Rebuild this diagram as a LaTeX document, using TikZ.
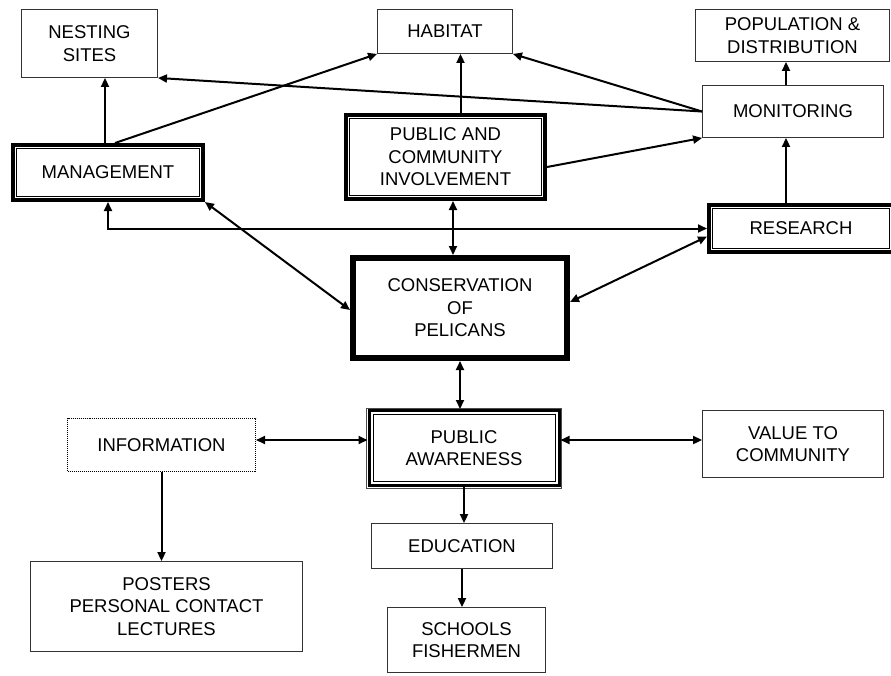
\documentclass[tikz,border=0pt]{standalone}
\usepackage{fontspec}
\setmainfont{Liberation Sans}
\usepackage{tikz}
\usetikzlibrary{shapes,arrows.meta,positioning,calc}

\newcommand{\boxfont}{\fontsize{18.5}{22.5}\selectfont}

\tikzset{
  box/.style={draw=black!80, line width=0.9pt, rectangle, align=center, font=\boxfont, inner sep=2pt},
  framed/.style={box, draw=black, line width=4pt},
  heavy/.style={box, draw=black, line width=6pt},
  dotbox/.style={box, draw=black, line width=1pt, densely dotted},
  link/.style={line width=2pt, -{Triangle[length=9pt,width=8pt]}},
  bilink/.style={line width=2pt, {Triangle[length=9pt,width=8pt]}-{Triangle[length=9pt,width=8pt]}}
}

\begin{document}
\begin{tikzpicture}[x=1pt,y=-1pt]
            \useasboundingbox (0,0) rectangle (891,675);

            % top row
            \node[box, minimum width=136, minimum height=68] (nest) at (89.5,43.5) {NESTING\\SITES};
            \node[box, minimum width=135, minimum height=44] (habitat) at (445,31.5) {HABITAT};
            \node[box, minimum width=194, minimum height=52] (popdist) at (792.5,35.5) {POPULATION \&\\DISTRIBUTION};
            \node[box, minimum width=181, minimum height=52] (monitor) at (793,111.5) {MONITORING};

            \node[framed, minimum width=190, minimum height=55] (mgmt) at (108,172.5) {MANAGEMENT};
            \node[framed, minimum width=199, minimum height=84] (pci) at (445.5,157) {PUBLIC AND\\COMMUNITY\\INVOLVEMENT};
            \node[framed, minimum width=184, minimum height=47] (research) at (801,228.5) {RESEARCH};

            \node[heavy, minimum width=214, minimum height=100] (cons) at (460,308) {CONSERVATION\\OF\\PELICANS};

            % lower part
            \node[framed, line width=3pt, minimum width=190, minimum height=75] (pa) at (464,448) {PUBLIC\\AWARENESS};
            \node[dotbox, minimum width=188, minimum height=53] (info) at (161.5,445) {INFORMATION};
            \node[box, minimum width=181, minimum height=67] (value) at (793,444) {VALUE TO\\COMMUNITY};
            \node[box, minimum width=181, minimum height=45] (edu) at (462,546) {EDUCATION};
            \node[box, minimum width=158, minimum height=65] (schools) at (466.5,640) {SCHOOLS\\FISHERMEN};
            \node[box, minimum width=272, minimum height=90] (posters) at (166.5,606.5) {POSTERS\\PERSONAL CONTACT\\LECTURES};

            % inner rules of the framed boxes
            \foreach \n in {mgmt,pci,research,pa}
                \draw[line width=1pt] ([shift={(5.5pt,-5.5pt)}]\n.north west) rectangle ([shift={(-5.5pt,5.5pt)}]\n.south east);
            \draw[line width=0.8pt, black!70] ([shift={(-1pt,1pt)}]pa.north west) rectangle ([shift={(1pt,-1pt)}]pa.south east);

            % connectors
            \draw[link] ([xshift=-3pt]mgmt.north) -- ([xshift=-3pt]mgmt.north |- nest.south);
            \draw[link] ([xshift=7pt]mgmt.north) -- (habitat.south west);
            \draw[link] (monitor.west) -- (nest.south east);
            \draw[link] (monitor.west) -- (habitat.south east);
            \draw[link] ([xshift=15pt]pci.north) -- ([xshift=15pt]pci.north |- habitat.south);
            \draw[link] ([yshift=-10pt]pci.east) -- (monitor.south west);
            \draw[link] ([xshift=-7pt]monitor.north) -- ([xshift=-7pt]monitor.north |- popdist.south);
            \draw[link] ([xshift=-7pt]monitor.south |- research.north) -- ([xshift=-7pt]monitor.south);

            \draw[bilink] (mgmt.south) |- (research.west);
            \draw[bilink] ([xshift=7.5pt]pci.south) -- ([xshift=7.5pt]pci.south |- cons.north);
            \draw[bilink] (mgmt.south east) -- ([yshift=-2pt]cons.west);
            \draw[bilink] ([yshift=6pt]cons.east) -- ([yshift=-8pt]research.west);
            \draw[bilink] (cons.south) -- (cons.south |- pa.north);
            \draw[bilink] ([yshift=5pt]info.east) -- ([yshift=5pt]info.east -| pa.west);
            \draw[bilink] ([yshift=8pt]pa.east) -- ([yshift=8pt]pa.east -| value.west);

            \draw[link] (info.south) -- (info.south |- posters.north);
            \draw[link] (pa.south) -- (pa.south |- edu.north);
            \draw[link] (edu.south) -- (edu.south |- schools.north);
        \end{tikzpicture}
\end{document}
